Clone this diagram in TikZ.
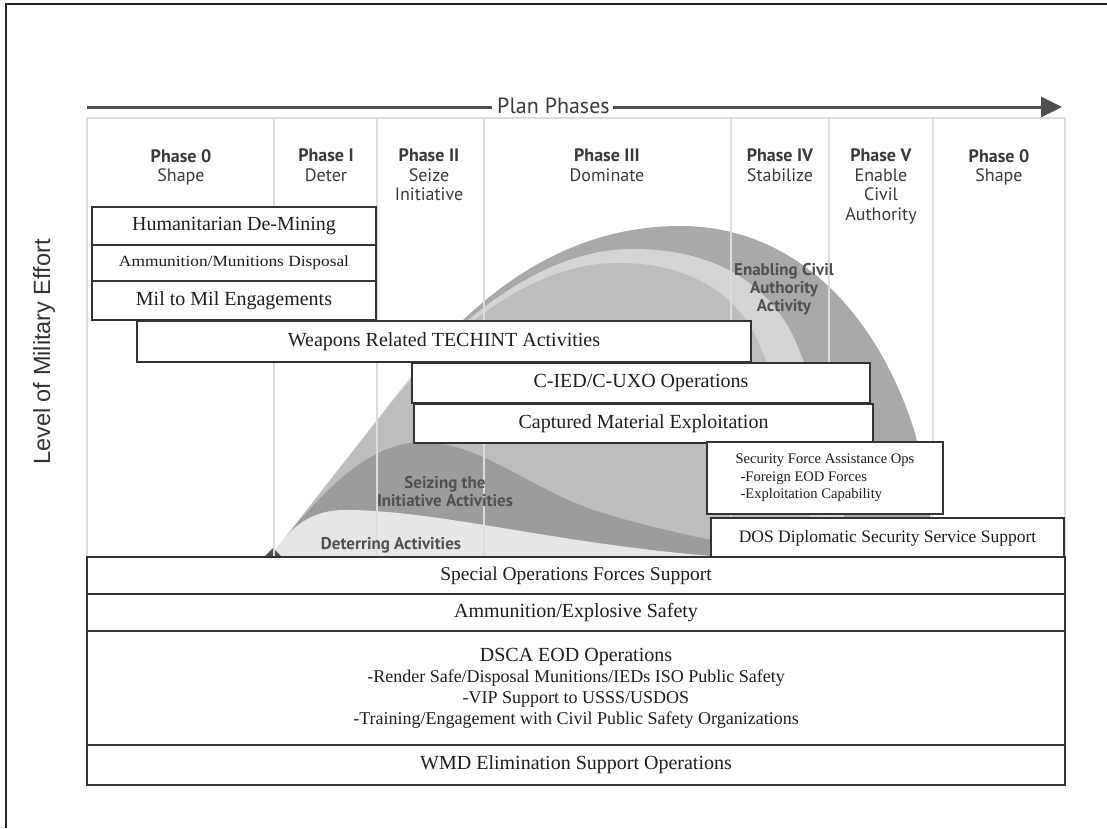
\documentclass[tikz,border=0pt]{standalone}
\usepackage{fontspec}
\usepackage{graphicx}
\setmainfont{Liberation Serif}
\newfontfamily\hdr{PT Sans}
\newfontfamily\lbl{Liberation Sans}
\usetikzlibrary{arrows.meta}
\definecolor{bandA}{HTML}{A9A9A9}
\definecolor{bandB}{HTML}{D4D4D4}
\definecolor{bandC}{HTML}{BDBDBD}
\definecolor{bandD}{HTML}{9C9C9C}
\definecolor{bandE}{HTML}{E6E6E6}
\definecolor{gridc}{HTML}{DCDCDC}
\definecolor{boxc}{HTML}{333333}
\definecolor{txt}{HTML}{1E1E1E}
\definecolor{phtxt}{HTML}{3A3A3A}
\definecolor{acttxt}{HTML}{505050}
\definecolor{ylbl}{HTML}{333333}
\definecolor{arrc}{HTML}{505050}
\begin{document}
\begin{tikzpicture}[x=1pt,y=-1pt,
  bx/.style={draw=boxc, line width=1.4pt, fill=white, inner sep=0pt, text=txt,
             font=\fontsize{20}{22}\selectfont},
  ph/.style={align=center, anchor=north, inner sep=0pt, text=phtxt,
             font=\hdr\fontsize{18}{19.5}\selectfont},
  gridln/.style={draw=gridc, line width=1.3pt},
  act/.style={align=center, inner sep=0pt, text=acttxt,
             font=\hdr\bfseries\fontsize{17}{18}\selectfont}]
\useasboundingbox (0,0) rectangle (1107,828);
\fill[white] (0,0) rectangle (1107,828);
% frame
\draw[line width=2pt, black!85] (6,828) -- (6,4) -- (1107,4);

% plan phases arrow
\node[font=\hdr\fontsize{22}{22}\selectfont, text=phtxt, anchor=base west, inner sep=0pt] (pp) at (497,113) {Plan Phases};
\coordinate (al) at (87,107);
\coordinate (ar) at (1062,107);
\draw[line width=3pt, arrc] (al) -- ([xshift=-5pt]pp.west |- al);
\draw[line width=3pt, arrc, -{Triangle[length=21pt,width=20pt]}] ([xshift=3pt]pp.east |- al) -- (ar);

% effort curves
\fill[bandA] (273,553) -- (405,385) .. controls (470,300) and (560,226) .. (680,226)
  .. controls (800,226) and (880,320) .. (915,433) .. controls (925,475) and (932,520) .. (935,557) -- (273,557) -- cycle;
\fill[bandB] (273,553) -- (398,393) .. controls (460,315) and (545,250) .. (630,249)
  .. controls (715,248) and (770,285) .. (795,340) .. controls (825,410) and (842,490) .. (850,557) -- (273,557) -- cycle;
\fill[bandC] (273,553) -- (392,402) .. controls (455,325) and (535,264) .. (615,263)
  .. controls (690,262) and (735,295) .. (755,335) .. controls (785,400) and (805,480) .. (815,557) -- (273,557) -- cycle;
\fill[bandD] (273,553) .. controls (315,500) and (365,443) .. (420,442)
  .. controls (480,441) and (530,490) .. (600,512) .. controls (650,528) and (700,537) .. (745,548) -- (745,557) -- (273,557) -- cycle;
\fill[bandE] (273,553) .. controls (295,520) and (318,510) .. (345,510)
  .. controls (440,510) and (560,545) .. (725,557) -- (273,557) -- cycle;
\fill[black!70] (264,557) -- (273,548) -- (282,557) -- cycle;

% phase grid
\draw[gridln] (87,118) -- (1065,118);
\foreach \gx in {87,274,377,484,731,829,933,1065} {\draw[gridln] (\gx,118) -- (\gx,557);}

% phase headers
\node[ph] (p0) at (181,149) {\textbf{Phase 0}\\Shape};
\node[ph] (p1) at (326,149) {\textbf{Phase I}\\Deter};
\node[ph] (p2) at (429,149) {\textbf{Phase II}\\Seize\\Initiative};
\node[ph] (p3) at (607,149) {\textbf{Phase III}\\Dominate};
\node[ph] (p4) at (780,149) {\textbf{Phase IV}\\Stabilize};
\node[ph] (p5) at (881,149) {\textbf{Phase V}\\Enable\\Civil\\Authority};
\node[ph] (p6) at (999,149) {\textbf{Phase 0}\\Shape};

% activity labels
\node[act] (eca) at (784,289) {Enabling Civil\\Authority\\Activity};
\node[act] (sia) at (445,492) {Seizing the\\Initiative Activities};
\node[act] (dea) at (391,545) {Deterring Activities};

% y-axis label
\node[rotate=90, font=\lbl\fontsize{23.5}{23.5}\selectfont, text=ylbl, inner sep=0pt] (lme) at (44,352) {Level of Military Effort};

% activity boxes
\node[bx, minimum width=284, minimum height=38] (hum) at (234,226) {Humanitarian De-Mining};
\node[bx, minimum width=284, minimum height=36] (amm) at (234,263) {\fontsize{15.5}{17}\selectfont\scalebox{1.12}[1]{Ammunition/Munitions Disposal}};
\node[bx, minimum width=284, minimum height=39] (mil) at (234,300.5) {Mil to Mil Engagements};
\node[bx, minimum width=614, minimum height=41] (tech) at (444,341.5) {Weapons Related TECHINT Activities};
\node[bx, minimum width=458, minimum height=40] (cied) at (641,383) {C-IED/C-UXO Operations};
\node[bx, minimum width=459, minimum height=39] (capt) at (643.5,423.5) {Captured Material Exploitation};
\node[bx, minimum width=236, minimum height=72, align=left, font=\fontsize{14.6}{17.5}\selectfont] (sec) at (825,478)
  {Security Force Assistance Ops\\\hspace*{5pt}-Foreign EOD Forces\\\hspace*{5pt}-Exploitation Capability};
\node[bx, minimum width=353, minimum height=40, font=\fontsize{17.5}{20}\selectfont] (dos) at (887.5,538) {DOS Diplomatic Security Service Support};
\node[bx, minimum width=978, minimum height=37, font=\fontsize{19.5}{22}\selectfont] (spec) at (576,575.5) {Special Operations Forces Support};
\node[bx, minimum width=978, minimum height=37] (ammx) at (576,612.5) {Ammunition/Explosive Safety};
\node[bx, minimum width=978, minimum height=114, align=center, font=\fontsize{18}{21}\selectfont] (dsca) at (576,688)
  {{\fontsize{20}{21}\selectfont DSCA EOD Operations}\\-Render Safe/Disposal Munitions/IEDs ISO Public Safety\\-VIP Support to USSS/USDOS\\-Training/Engagement with Civil Public Safety Organizations};
\node[bx, minimum width=978, minimum height=40] (wmd) at (576,765) {WMD Elimination Support Operations};
\end{tikzpicture}
\end{document}
